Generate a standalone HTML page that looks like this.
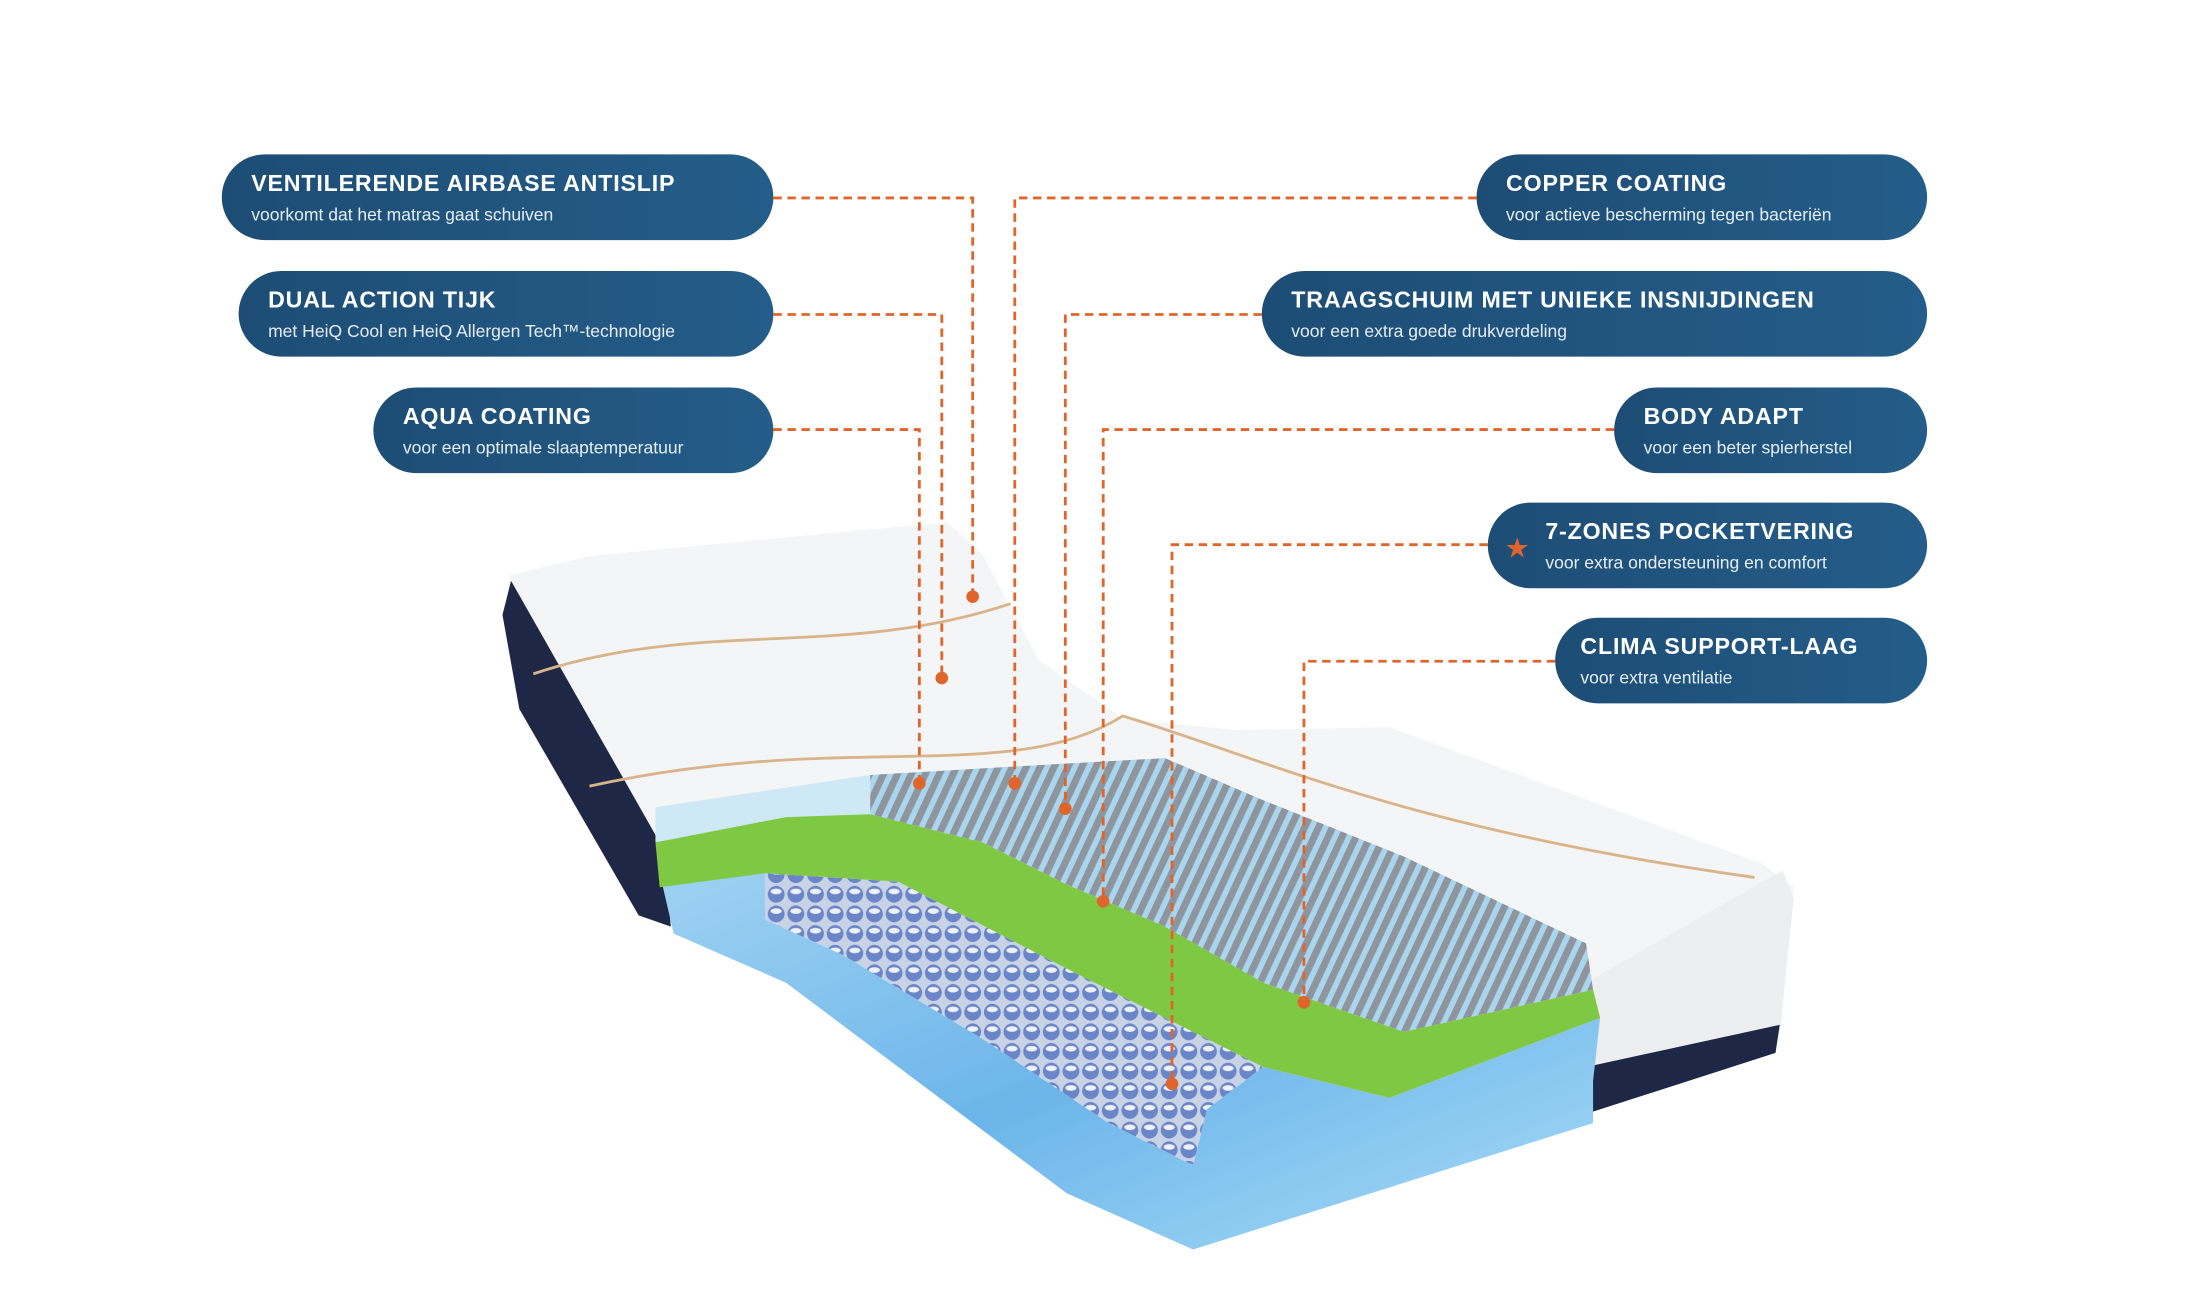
<!DOCTYPE html>
<html><head><meta charset="utf-8">
<style>
html,body{margin:0;padding:0;background:#fff;}
svg{display:block;}
.t{font-family:"Liberation Sans",sans-serif;font-weight:bold;fill:#fff;font-size:16.5px;letter-spacing:0.6px;}
.s{font-family:"Liberation Sans",sans-serif;fill:#e6eef5;font-size:12.5px;}
.c{stroke:#e0652a;stroke-width:2;stroke-dasharray:6 4;fill:none;}
</style></head>
<body>
<svg width="2198" height="1300" viewBox="0 0 1566 926" preserveAspectRatio="none" xmlns="http://www.w3.org/2000/svg">
<defs>
<linearGradient id="pill" x1="0" y1="0" x2="1" y2="0">
<stop offset="0" stop-color="#1d4d75"/><stop offset="1" stop-color="#245d89"/></linearGradient>
<pattern id="sp" width="14" height="14" patternUnits="userSpaceOnUse">
<rect width="14" height="14" fill="#c9d3e6"/>
<ellipse cx="7" cy="7" rx="6" ry="6" fill="#6b86c8"/>
<ellipse cx="7" cy="5" rx="4" ry="2" fill="#eef1f7"/></pattern>
<pattern id="gr" width="9" height="9" patternUnits="userSpaceOnUse" patternTransform="rotate(25)">
<rect width="9" height="9" fill="#a9d6ee"/><rect width="5" height="9" fill="#8e959c"/></pattern>
<linearGradient id="bl" x1="0" y1="0" x2="1" y2="1">
<stop offset="0" stop-color="#9fd2f2"/><stop offset="0.5" stop-color="#6cb5ea"/><stop offset="1" stop-color="#a9dcf6"/></linearGradient>
</defs>

<!-- mattress -->
<polygon points="358,438 365,410 472,600 478,660 455,652 370,505" fill="#1f2747"/>
<polygon points="362,410 420,396 675,372 700,395 740,470 800,512 880,520 990,518 1255,615 1278,632 1268,740 1130,770 1125,690 620,555 470,600" fill="#f4f5f6"/>
<path d="M380,480 C500,440 600,470 720,430" stroke="#d9b48a" stroke-width="2" fill="none"/>
<path d="M420,560 C600,520 720,560 800,510 C900,540 1000,590 1250,625" stroke="#d9b48a" stroke-width="2" fill="none"/>
<polygon points="1130,700 1270,620 1278,640 1268,735 1135,765" fill="#eceef0"/>
<polygon points="1130,760 1268,730 1265,750 1125,795" fill="#1f2747"/>
<polygon points="470,622 545,620 545,655 600,680 700,740 790,800 850,830 860,790 900,760 990,782 1140,725 1135,770 1135,800 850,890 760,850 640,760 560,700 480,665" fill="url(#bl)"/>
<polygon points="545,622 640,628 760,690 900,760 860,790 850,830 790,800 700,740 600,680 545,655" fill="url(#sp)"/>
<polygon points="467,575 620,552 620,580 467,600" fill="#cfe8f6"/>
<polygon points="620,552 740,545 830,540 900,570 1000,610 1130,672 1135,705 1000,735 900,700 830,660 760,630 700,600 620,580" fill="url(#gr)"/>
<polygon points="467,600 560,582 620,580 700,600 760,630 830,660 900,700 1000,735 1135,705 1140,725 990,782 900,760 760,690 640,628 545,622 470,632" fill="#7fc843"/>

<!-- connectors -->
<polyline class="c" points="551,141 693,141 693,425"/>
<polyline class="c" points="551,224 671,224 671,483"/>
<polyline class="c" points="551,306 655,306 655,558"/>
<polyline class="c" points="1052,141 723,141 723,558"/>
<polyline class="c" points="899,224 759,224 759,576"/>
<polyline class="c" points="1150,306 786,306 786,642"/>
<polyline class="c" points="1060,388 835,388 835,772"/>
<polyline class="c" points="1108,471 929,471 929,714"/>
<g fill="#e0652a">
<circle cx="693" cy="425" r="4.5"/><circle cx="671" cy="483" r="4.5"/><circle cx="655" cy="558" r="4.5"/>
<circle cx="723" cy="558" r="4.5"/><circle cx="759" cy="576" r="4.5"/><circle cx="786" cy="642" r="4.5"/>
<circle cx="835" cy="772" r="4.5"/><circle cx="929" cy="714" r="4.5"/></g>

<!-- pills -->
<rect x="158" y="110" width="393" height="61" rx="30.5" fill="url(#pill)"/>
<text class="t" x="179" y="136">VENTILERENDE AIRBASE ANTISLIP</text>
<text class="s" x="179" y="157">voorkomt dat het matras gaat schuiven</text>
<rect x="170" y="193" width="381" height="61" rx="30.5" fill="url(#pill)"/>
<text class="t" x="191" y="219">DUAL ACTION TIJK</text>
<text class="s" x="191" y="240">met HeiQ Cool en HeiQ Allergen Tech™-technologie</text>
<rect x="266" y="276" width="285" height="61" rx="30.5" fill="url(#pill)"/>
<text class="t" x="287" y="302">AQUA COATING</text>
<text class="s" x="287" y="323">voor een optimale slaaptemperatuur</text>

<rect x="1052" y="110" width="321" height="61" rx="30.5" fill="url(#pill)"/>
<text class="t" x="1073" y="136">COPPER COATING</text>
<text class="s" x="1073" y="157">voor actieve bescherming tegen bacteriën</text>
<rect x="899" y="193" width="474" height="61" rx="30.5" fill="url(#pill)"/>
<text class="t" x="920" y="219">TRAAGSCHUIM MET UNIEKE INSNIJDINGEN</text>
<text class="s" x="920" y="240">voor een extra goede drukverdeling</text>
<rect x="1150" y="276" width="223" height="61" rx="30.5" fill="url(#pill)"/>
<text class="t" x="1171" y="302">BODY ADAPT</text>
<text class="s" x="1171" y="323">voor een beter spierherstel</text>
<rect x="1060" y="358" width="313" height="61" rx="30.5" fill="url(#pill)"/>
<text x="1072" y="397" font-family="DejaVu Sans,sans-serif" font-size="20" fill="#e0652a">★</text>
<text class="t" x="1101" y="384">7-ZONES POCKETVERING</text>
<text class="s" x="1101" y="405">voor extra ondersteuning en comfort</text>
<rect x="1108" y="440" width="265" height="61" rx="30.5" fill="url(#pill)"/>
<text class="t" x="1126" y="466">CLIMA SUPPORT-LAAG</text>
<text class="s" x="1126" y="487">voor extra ventilatie</text>
</svg>
</body></html>
